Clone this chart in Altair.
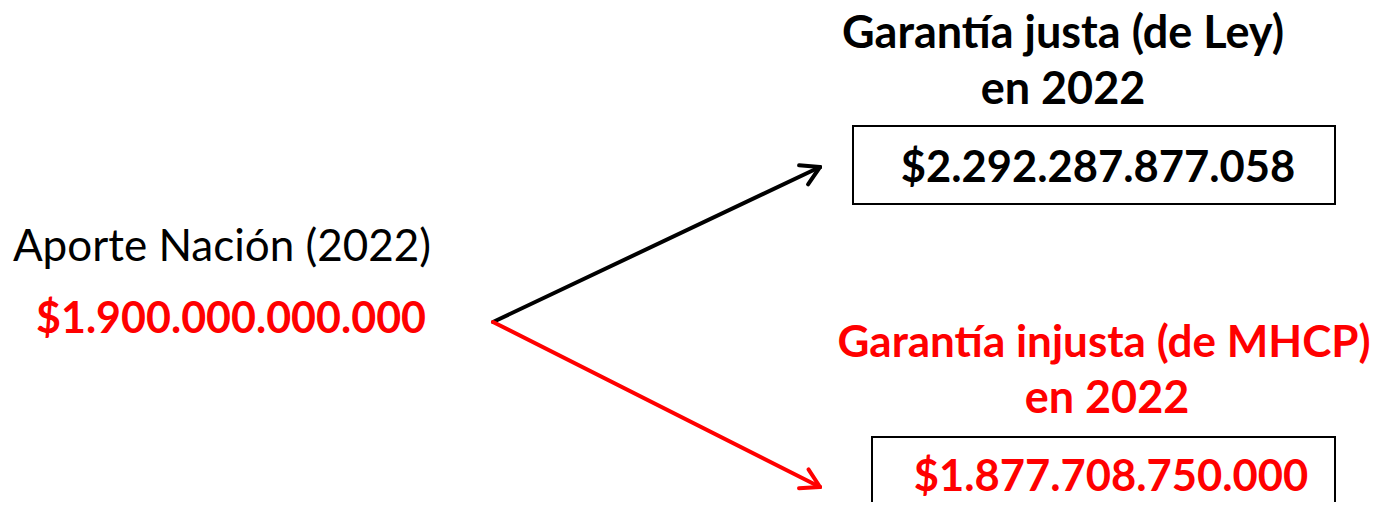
import altair as alt
import pandas as pd
import numpy as np

# ---- content ----
source_label = "Aporte Nación (2022)"
source_amount = "$1.900.000.000.000"
dest_titles = ["Garantía justa (de Ley)", "Garantía injusta (de MHCP)"]
dest_years = ["en 2022", "en 2022"]
dest_amounts = ["$2.292.287.877.058", "$1.877.708.750.000"]
dest_colors = ["#000000", "#FF0000"]
source_amount_color = "#FF0000"

# ---- layout (pixel positions in the 1380x510 page) ----
W, H = 1364, 494
X0, Y0 = 8, 8
FONT = "Lato"

src_label_pos = (222, 261, 44, "normal")
src_amount_pos = (231, 333, 43, "bold")
title_pos = [(1063, 48, 45, "bold"), (1104, 357, 44, "bold")]
year_pos = [(1063, 104, 45, "bold"), (1107, 413, 45, "bold")]
amount_pos = [(1098, 182, 43.5, "bold"), (1111, 491, 43.5, "bold")]
boxes = [(853, 126, 1335, 204), (872, 437, 1335, 530)]
arrow_start = (493, 322)
arrow_ends = [(820, 167), (820, 487)]
head_len, head_ang = 21, np.deg2rad(30)

xs = alt.Scale(domain=[X0, X0 + W], nice=False, zero=False)
ys = alt.Scale(domain=[Y0, Y0 + H], nice=False, zero=False, reverse=True)

# text table
rows = [dict(text=source_label, x=src_label_pos[0], y=src_label_pos[1], size=src_label_pos[2],
             weight=src_label_pos[3], color="#000000"),
        dict(text=source_amount, x=src_amount_pos[0], y=src_amount_pos[1], size=src_amount_pos[2],
             weight=src_amount_pos[3], color=source_amount_color)]
for i in range(2):
    for txt, p in ((dest_titles[i], title_pos[i]), (dest_years[i], year_pos[i]), (dest_amounts[i], amount_pos[i])):
        rows.append(dict(text=txt, x=p[0], y=p[1], size=p[2], weight=p[3], color=dest_colors[i]))
tdf = pd.DataFrame(rows)

# arrow segments
segs = []
for i, (ex, ey) in enumerate(arrow_ends):
    sx, sy = arrow_start
    segs.append(dict(x=sx, y=sy, x2=ex, y2=ey, color=dest_colors[i]))
    back = np.arctan2(sy - ey, sx - ex)
    for s in (-1, 1):
        a = back + s * head_ang
        segs.append(dict(x=ex, y=ey, x2=ex + head_len * np.cos(a), y2=ey + head_len * np.sin(a),
                         color=dest_colors[i]))
sdf = pd.DataFrame(segs)

bdf = pd.DataFrame([dict(x=b[0], y=b[1], x2=b[2], y2=b[3]) for b in boxes])

box_layer = alt.Chart(bdf).mark_rect(fill="white", stroke="black", strokeWidth=2, clip=True).encode(
    x=alt.X("x:Q", scale=xs, axis=None), x2="x2:Q",
    y=alt.Y("y:Q", scale=ys, axis=None), y2="y2:Q")

arrow_layer = alt.Chart(sdf).mark_rule(strokeWidth=4, strokeCap="round").encode(
    x=alt.X("x:Q", scale=xs, axis=None), x2="x2:Q",
    y=alt.Y("y:Q", scale=ys, axis=None), y2="y2:Q",
    color=alt.Color("color:N", scale=None))

text_layers = []
for _, grp in tdf.groupby(["size", "weight"]):
    size, weight = grp["size"].iloc[0], grp["weight"].iloc[0]
    text_layers.append(
        alt.Chart(grp).mark_text(font=FONT, fontSize=float(size), fontWeight=weight,
                                 align="center", baseline="alphabetic").encode(
            x=alt.X("x:Q", scale=xs, axis=None),
            y=alt.Y("y:Q", scale=ys, axis=None),
            text="text:N",
            color=alt.Color("color:N", scale=None)))

chart = alt.layer(box_layer, arrow_layer, *text_layers).properties(
    width=W, height=H, autosize=alt.AutoSizeParams(type="none"), padding=0,
    background="white"
).configure_view(stroke="transparent", strokeWidth=0)

chart.save("out.html", embed_options={"renderer": "svg", "actions": False})
